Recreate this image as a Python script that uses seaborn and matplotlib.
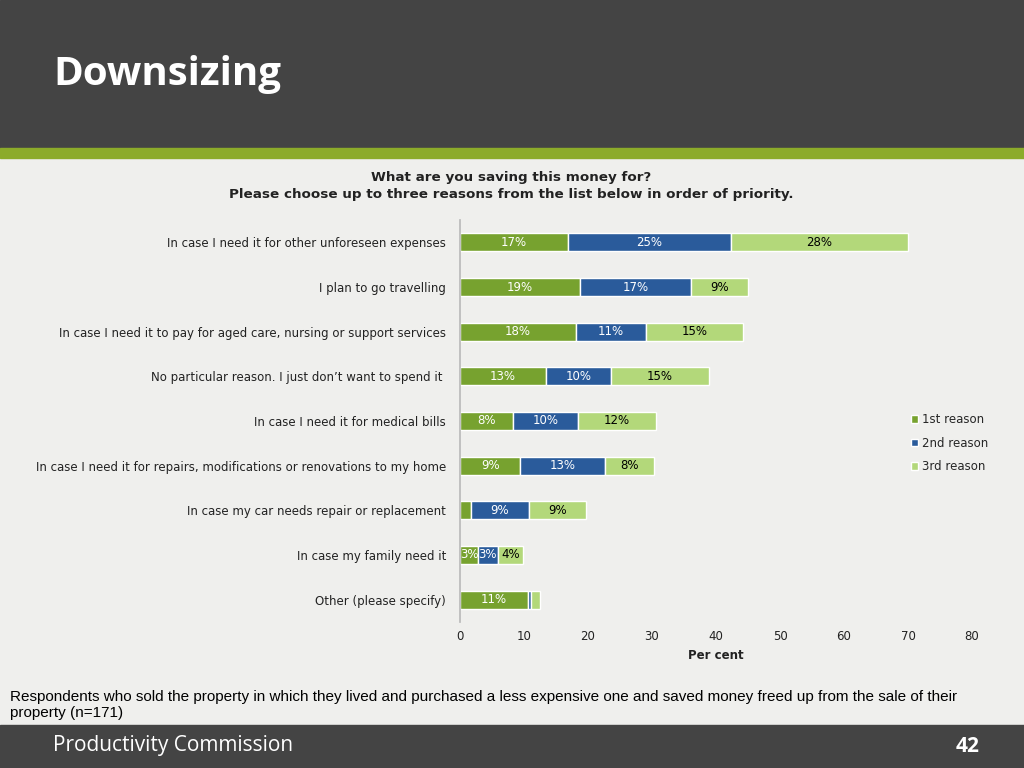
import matplotlib
matplotlib.use("Agg")
import matplotlib.pyplot as plt
import seaborn as sns
import numpy as np

sns.set_theme(style="white")
plt.rcParams['font.family'] = ['DejaVu Sans']

categories = [
    "In case I need it for other unforeseen expenses",
    "I plan to go travelling",
    "In case I need it to pay for aged care, nursing or support services",
    "No particular reason. I just don\u2019t want to spend it ",
    "In case I need it for medical bills",
    "In case I need it for repairs, modifications or renovations to my home",
    "In case my car needs repair or replacement",
    "In case my family need it",
    "Other (please specify)",
]
first = [16.9, 18.7, 18.1, 13.4, 8.3, 9.4, 1.7, 2.8, 10.6]
second = [25.4, 17.4, 10.9, 10.2, 10.1, 13.3, 9.1, 3.1, 0.5]
third = [27.7, 8.9, 15.2, 15.3, 12.2, 7.6, 8.9, 3.9, 1.4]
series = ["1st reason", "2nd reason", "3rd reason"]
colors = ["#77a22f", "#2a5b9b", "#b3d87a"]
text_colors = ["white", "white", "black"]

fig = plt.figure(figsize=(10.24, 7.68), dpi=100)
fig.patch.set_facecolor("#efefed")

# header / footer decoration
fig.add_artist(plt.Rectangle((0, 1 - 148/768), 1, 148/768, transform=fig.transFigure, color="#444444", zorder=0))
fig.add_artist(plt.Rectangle((0, 1 - 158/768), 1, 10/768, transform=fig.transFigure, color="#8cab2a", zorder=1))
fig.add_artist(plt.Rectangle((0, 0), 1, 43/768, transform=fig.transFigure, color="#444444", zorder=1))
fig.text(53/1024, 1 - 74/768, "Downsizing", color="white", fontsize=29, fontweight="bold",
         va="center", family=["Open Sans", "DejaVu Sans"])
fig.text(53/1024, 22/768, "Productivity Commission", color="white", fontsize=15, va="center",
         family=["Open Sans", "DejaVu Sans"])
fig.text(980/1024, 22/768, "42", color="white", fontsize=15, fontweight="bold", va="center", ha="right",
         family=["Open Sans", "DejaVu Sans"])
fig.text(10/1024, 1 - 705/768,
         "Respondents who sold the property in which they lived and purchased a less expensive one and saved money freed up from the sale of their\nproperty (n=171)",
         fontsize=11, va="center", color="black", family=["Liberation Sans", "DejaVu Sans"])
fig.text(511/1024, 1 - 186/768,
         "What are you saving this money for?\nPlease choose up to three reasons from the list below in order of priority.",
         fontsize=9.7, fontweight="bold", ha="center", va="center", color="#222222", linespacing=1.4)

ax = fig.add_axes([460/1024, 1 - 622/768, 512/1024, 402/768])
ax.set_facecolor("#efefed")
y = np.arange(len(categories))
left = np.zeros(len(categories))
for vals, name, col, tc in zip([first, second, third], series, colors, text_colors):
    vals = np.array(vals)
    ax.barh(y, vals, left=left, height=0.4, color=col, label=name)
    for yi, l, v in zip(y, left, vals):
        if v >= 2.5:
            ax.text(l + v / 2, yi, f"{round(v)}%", ha="center", va="center", color=tc, fontsize=8.5)
    left += vals

ax.set_ylim(len(categories) - 0.5, -0.5)
ax.set_yticks(y)
ax.set_yticklabels(categories, fontsize=8.5, color="#222222")
ax.set_xlim(0, 80)
ax.set_xticks(range(0, 81, 10))
ax.tick_params(axis="x", labelsize=8.5, colors="#222222", length=0, pad=6)
ax.tick_params(axis="y", length=0, pad=10)
ax.set_xlabel("Per cent", fontsize=8.5, fontweight="bold", color="#222222")
for s in ["top", "right", "bottom"]:
    ax.spines[s].set_visible(False)
ax.spines["left"].set_color("#bbbbbb")
ax.legend(loc="center left", bbox_to_anchor=(0.86, 0.445), frameon=False, fontsize=8.5,
          handlelength=0.6, handleheight=0.6, handletextpad=0.3, labelspacing=0.9)

fig.savefig("out.png", dpi=100, facecolor=fig.get_facecolor())
